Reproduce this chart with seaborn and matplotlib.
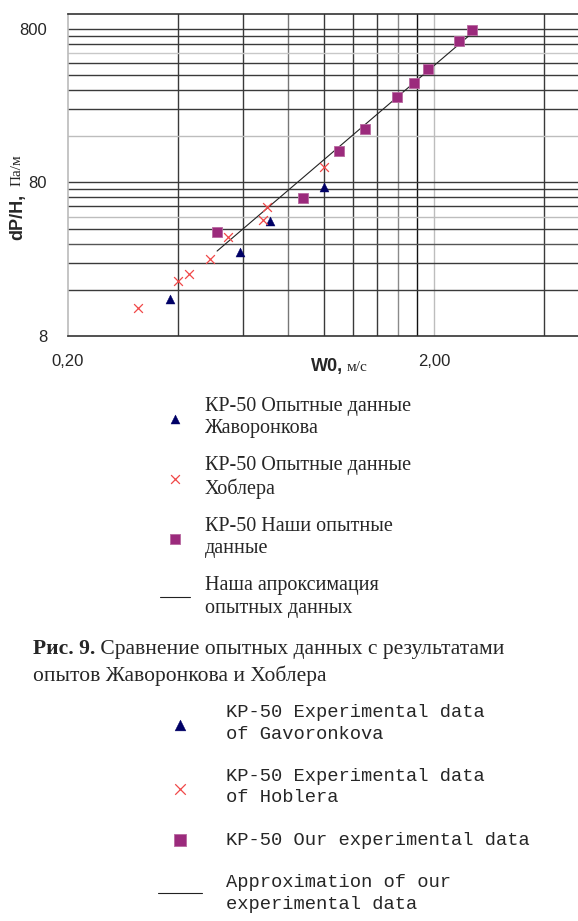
import matplotlib
matplotlib.use("Agg")
import matplotlib.pyplot as plt
import seaborn as sns
import pandas as pd
from matplotlib.ticker import FixedLocator, FixedFormatter, NullFormatter

# ---------------- data ----------------
zhav_x = [0.380, 0.590, 0.713, 1.00]
zhav_y = [13.9, 28.2, 44.9, 74.8]

hob_x = [0.311, 0.400, 0.428, 0.489, 0.547, 0.682, 0.700, 1.00]
hob_y = [12.2, 18.2, 20.3, 25.4, 35.3, 45.6, 55.4, 101.0]

our_x = [0.511, 0.877, 1.10, 1.30, 1.58, 1.76, 1.93, 2.34, 2.54]
our_y = [38.1, 63.4, 128.0, 178.0, 289.0, 356.0, 439.0, 668.0, 788.0]

fit_x = [0.511, 2.54]
fit_y = [28.6, 750.0]

x_ticks = [0.2, 2.0]
x_ticklabels = ["0,20", "2,00"]
y_ticks = [8, 80, 800]
y_ticklabels = ["8", "80", "800"]
x_grid = [0.4, 0.6, 0.8, 1.0, 1.2, 1.4, 1.6, 1.8, 2.0, 4.0]
y_grid = [16, 24, 32, 40, 48, 56, 64, 72, 80, 160, 240, 320, 400, 480, 560, 640, 720, 800]

labels_ru = ["КР-50 Опытные данные\nЖаворонкова",
             "КР-50 Опытные данные\nХоблера",
             "КР-50 Наши опытные\nданные",
             "Наша апроксимация\nопытных данных"]
labels_en = ["KP-50 Experimental data\nof Gavoronkova",
             "KP-50 Experimental data\nof Hoblera",
             "KP-50 Our experimental data",
             "Approximation of our\nexperimental data"]

# ---------------- figure ----------------
sns.set_style("white")
W, H = 578, 921
fig = plt.figure(figsize=(W / 100, H / 100), dpi=100)
ax = fig.add_axes([68 / W, 1 - 336 / H, (W - 68) / W, (336 - 14) / H])

df_z = pd.DataFrame({"x": zhav_x, "y": zhav_y})
df_h = pd.DataFrame({"x": hob_x, "y": hob_y})
df_o = pd.DataFrame({"x": our_x, "y": our_y})
df_f = pd.DataFrame({"x": fit_x, "y": fit_y})

sns.lineplot(data=df_f, x="x", y="y", ax=ax, color="#222222", lw=0.8,
             label="fit", zorder=3)
sns.scatterplot(data=df_z, x="x", y="y", ax=ax, marker="^", color="#000066",
                s=42, edgecolor="#000066", linewidth=0.3, label="z", zorder=4)
sns.scatterplot(data=df_h, x="x", y="y", ax=ax, marker="x", color="#F04848",
                s=40, linewidth=0.9, label="h", zorder=4)
sns.scatterplot(data=df_o, x="x", y="y", ax=ax, marker="s", color="#9B2A7C",
                s=48, edgecolor="#B868A0", linewidth=0.6, label="o", zorder=4)

ax.set_xscale("log")
ax.set_yscale("log")
ax.set_xlim(0.2, 4.95)
ax.set_ylim(8, 1000)

ax.xaxis.remove_overlapping_locs = False
ax.yaxis.remove_overlapping_locs = False
ax.xaxis.set_major_locator(FixedLocator(x_ticks))
ax.xaxis.set_major_formatter(FixedFormatter(x_ticklabels))
ax.xaxis.set_minor_locator(FixedLocator(x_grid))
ax.xaxis.set_minor_formatter(NullFormatter())
ax.yaxis.set_major_locator(FixedLocator(y_ticks))
ax.yaxis.set_major_formatter(FixedFormatter(y_ticklabels))
ax.yaxis.set_minor_locator(FixedLocator(y_grid))
ax.yaxis.set_minor_formatter(NullFormatter())

ax.grid(False, which="major")
ax.grid(True, which="minor", color="#3a3a3a", lw=1.0)
ax.tick_params(axis="x", which="major", length=5, width=1, color="#aaaaaa",
               pad=8, labelsize=12)
ax.tick_params(axis="y", which="major", length=0, pad=15, labelsize=12)
ax.tick_params(which="minor", length=0)
for lab in ax.get_xticklabels() + ax.get_yticklabels():
    lab.set_fontfamily("Liberation Sans")

light = {2.0: "#bdbdbd", 0.8: "#777777", 1.6: "#8a8a8a", 1.8: "#111111"}
for t, v in zip(ax.xaxis.get_minor_ticks(len(x_grid)), x_grid):
    if v in light:
        t.gridline.set_color(light[v])
lighty = {48: "#bdbdbd", 160: "#bdbdbd", 560: "#c8c8c8", 32: "#555555"}
for t, v in zip(ax.yaxis.get_minor_ticks(len(y_grid)), y_grid):
    if v in lighty:
        t.gridline.set_color(lighty[v])

for side in ["top", "bottom"]:
    ax.spines[side].set_color("#333333")
    ax.spines[side].set_linewidth(1.2)
ax.spines["left"].set_color("#bbbbbb")
ax.spines["left"].set_linewidth(1.2)
ax.spines["right"].set_visible(False)
ax.set_xlabel("")
ax.set_ylabel("")

hd = {lab: h for h, lab in zip(*ax.get_legend_handles_labels())}
order = [hd["z"], hd["h"], hd["o"], hd["fit"]]
ax.get_legend().remove()

# axis labels
fig.text(18 / W, 1 - 240 / H, "dP/H,", rotation=90, ha="center", va="bottom",
         fontsize=13, fontweight="bold", family="Liberation Sans")
fig.text(17 / W, 1 - 186 / H, "Па/м", rotation=90, ha="center", va="bottom",
         fontsize=11, family="Liberation Serif")
fig.text(311 / W, 1 - 371 / H, "W0,", ha="left", va="baseline",
         fontsize=13, fontweight="bold", family="Liberation Sans")
fig.text(347 / W, 1 - 371 / H, "м/с", ha="left", va="baseline",
         fontsize=11, family="Liberation Serif")

# Russian legend
fs_ru = 14.5
px_ru = fs_ru * 100 / 72
leg_ru = fig.legend(order, labels_ru, loc="upper left",
                    bbox_to_anchor=(160 / W, 1 - 397 / H), frameon=False,
                    borderpad=0, borderaxespad=0,
                    handlelength=30 / px_ru, handletextpad=15 / px_ru,
                    labelspacing=0.9,
                    prop={"family": "Liberation Serif", "size": fs_ru})
for t in leg_ru.get_texts():
    t.set_linespacing(1.22)

# caption
cap1 = fig.text(33 / W, 1 - 654 / H, "Рис. 9.", ha="left", va="baseline",
                fontsize=15.5, fontweight="bold", family="Liberation Serif")
ax.annotate(" Сравнение опытных данных с результатами", xy=(1, 0),
            xycoords=cap1, ha="left", va="bottom", fontsize=15.5,
            family="Liberation Serif", annotation_clip=False)
fig.text(33 / W, 1 - 681 / H, "опытов Жаворонкова и Хоблера", ha="left",
         va="baseline", fontsize=15.5, family="Liberation Serif")

# English legend
fs_en = 13.5
px_en = fs_en * 100 / 72
leg_en = fig.legend(order, labels_en, loc="upper left",
                    bbox_to_anchor=(158 / W, 1 - 704 / H), frameon=False,
                    borderpad=0, borderaxespad=0,
                    handlelength=44 / px_en, handletextpad=24 / px_en,
                    labelspacing=1.35, markerscale=1.2,
                    prop={"family": "Liberation Mono", "size": fs_en})
for t in leg_en.get_texts():
    t.set_linespacing(1.35)

fig.savefig("out.png", dpi=100)
